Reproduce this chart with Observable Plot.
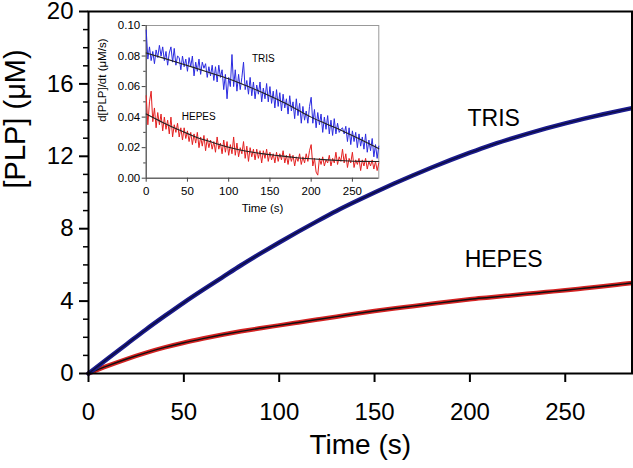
<!DOCTYPE html>
<html><head><meta charset="utf-8">
<script src="https://cdn.jsdelivr.net/npm/d3@7"></script>
<script src="https://cdn.jsdelivr.net/npm/@observablehq/plot@0.6"></script>
<style>
html,body{margin:0;padding:0;background:#fff;}
#chart{position:relative;width:633px;height:468px;overflow:hidden;}
#inset{position:absolute;left:90px;top:15px;}
svg{overflow:visible;}
</style></head><body><div id="chart"><div id="main"></div><div id="inset"></div></div>
<script>
// ---- Main panel data: [PLP] (µM) vs time (s)
const mainTime = [0,10,20,30,40,50,60,70,80,90,100,110,120,130,140,150,160,170,180,190,200,210,220,230,240,250,260,270,280,285];
const trisMain = [0,0.82,1.62,2.42,3.18,3.92,4.62,5.30,5.98,6.62,7.24,7.84,8.42,8.98,9.50,10.00,10.48,10.94,11.38,11.80,12.20,12.58,12.92,13.24,13.54,13.82,14.08,14.32,14.55,14.66];
const hepesMain = [0,0.42,0.80,1.14,1.44,1.70,1.93,2.14,2.33,2.50,2.66,2.82,2.98,3.14,3.30,3.45,3.59,3.72,3.85,3.98,4.10,4.20,4.30,4.40,4.50,4.60,4.71,4.82,4.94,5.00];

// ---- Inset data: d[PLP]/dt (µM/s) vs time (s)
const insetTime = [
0,2,4,6,8,10,12,14,16,18,
20,22,24,26,28,30,32,34,36,38,
40,42,44,46,48,50,52,54,56,58,
60,62,64,66,68,70,72,74,76,78,
80,82,84,86,88,90,92,94,96,98,
100,102,104,106,108,110,112,114,116,118,
120,122,124,126,128,130,132,134,136,138,
140,142,144,146,148,150,152,154,156,158,
160,162,164,166,168,170,172,174,176,178,
180,182,184,186,188,190,192,194,196,198,
200,202,204,206,208,210,212,214,216,218,
220,222,224,226,228,230,232,234,236,238,
240,242,244,246,248,250,252,254,256,258,
260,262,264,266,268,270,272,274,276,278,
280,282];
const trisRate = [
.097,.078,.086,.077,.083,.075,.084,.079,.087,.080,
.086,.077,.083,.074,.082,.086,.076,.085,.074,.080,
.079,.071,.080,.073,.078,.070,.079,.073,.080,.067,
.076,.070,.078,.068,.076,.072,.075,.066,.073,.067,
.074,.064,.073,.063,.074,.066,.071,.058,.068,.052,
.066,.060,.081,.060,.071,.057,.068,.058,.066,.076,
.058,.064,.055,.066,.054,.063,.052,.061,.055,.063,
.050,.059,.052,.062,.050,.060,.049,.057,.046,.058,
.047,.056,.044,.055,.046,.052,.042,.054,.044,.050,
.039,.052,.041,.049,.036,.047,.038,.044,.036,.047,
.053,.036,.045,.033,.043,.035,.042,.030,.040,.032,
.041,.029,.038,.028,.039,.029,.036,.030,.032,.033,
.029,.034,.024,.033,.022,.031,.024,.030,.020,.029,
.021,.027,.019,.029,.017,.025,.018,.026,.014,.022,
.013,.021];
const hepesRate = [
.054,.035,.050,.057,.037,.046,.033,.043,.035,.042,
.031,.040,.032,.038,.029,.040,.027,.035,.030,.036,
.027,.033,.025,.033,.026,.031,.024,.030,.022,.029,
.023,.030,.020,.027,.021,.028,.018,.026,.020,.025,
.019,.024,.017,.027,.019,.023,.016,.025,.017,.024,
.015,.022,.016,.027,.015,.023,.014,.020,.016,.024,
.013,.021,.011,.020,.014,.019,.012,.019,.013,.018,
.010,.018,.013,.019,.011,.017,.012,.016,.010,.017,
.011,.016,.012,.018,.010,.015,.009,.016,.011,.015,
.008,.014,.011,.016,.009,.014,.010,.016,.011,.018,
.022,.008,.013,.004,.002,.013,.009,.014,.008,.012,
.010,.015,.008,.013,.010,.017,.009,.014,.011,.019,
.010,.016,.007,.013,.010,.017,.007,.012,.009,.013,
.005,.012,.008,.013,.006,.011,.008,.012,.006,.011,
.005,.010];
const fitTime = [0,20,40,60,80,100,120,140,160,180,200,220,240,260,280,282];
const trisFit = [.082,.0788,.0755,.0721,.0686,.0651,.0608,.0563,.0513,.0458,.040,.0352,.0304,.0253,.0199,.0193];
const hepesFit = [.042,.0365,.0315,.027,.0235,.0203,.0178,.0161,.0148,.0136,.0127,.012,.0114,.011,.0109,.0109];

// ---- Ticks and labels
const mainXTicks = [0,50,100,150,200,250];
const mainYTicks = [0,4,8,12,16,20];
const mainYMinor = [1,2,3,5,6,7,9,10,11,13,14,15,17,18,19];
const insetXTicks = [0,50,100,150,200,250];
const insetYTicks = [0,0.02,0.04,0.06,0.08,0.10];
const insetYMinor = [0.01,0.03,0.05,0.07,0.09];
const seriesNames = ["TRIS","HEPES"];
const mainLabelAt = [{t:212.5, v:14.1}, {t:217.7, v:6.28}];
const insetLabelAt = [{t:142, v:0.0782}, {t:63.7, v:0.040}];

const FONT = '"Liberation Sans", Arial, Helvetica, sans-serif';
const trisColor = "#1c1c8e", hepesColor = "#d42222";
const insetBlue = "#2b2be0", insetRed = "#e42020";

const mainRows = mainTime.map((t,i)=>({t, tris: trisMain[i], hepes: hepesMain[i]}));
const insetRows = insetTime.map((t,i)=>({t, tris: trisRate[i], hepes: hepesRate[i]}));
const fitRows = fitTime.map((t,i)=>({t, tris: trisFit[i], hepes: hepesFit[i]}));
const mainLabels = seriesNames.map((s,i)=>({s, ...mainLabelAt[i]}));
const insetLabels = seriesNames.map((s,i)=>({s, ...insetLabelAt[i]}));

const main = Plot.plot({
  width: 633, height: 468,
  marginLeft: 88, marginRight: 1.5, marginTop: 11, marginBottom: 95,
  style: {fontFamily: FONT, background: "white", color: "black", overflow: "visible"},
  x: {domain: [0, 285]},
  y: {domain: [0, 20]},
  marks: [
    Plot.line(mainRows, {x: "t", y: "hepes", stroke: hepesColor, strokeWidth: 4.5, curve: "monotone-x"}),
    Plot.line(mainRows, {x: "t", y: "hepes", stroke: "#111", strokeWidth: 1.4, curve: "monotone-x"}),
    Plot.line(mainRows, {x: "t", y: "tris", stroke: trisColor, strokeWidth: 4.5, curve: "monotone-x"}),
    Plot.line(mainRows, {x: "t", y: "tris", stroke: "#0c0c40", strokeWidth: 1.4, curve: "monotone-x"}),
    Plot.axisY(mainYTicks, {tickSize: 9, tickPadding: 6, fontSize: 24, strokeWidth: 2, label: null}),
    Plot.axisY(mainYMinor, {tickSize: 5, strokeWidth: 1.5, tickFormat: () => "", label: null}),
    Plot.axisX(mainXTicks, {tickSize: 9, tickPadding: 20, fontSize: 24, strokeWidth: 2, label: null}),
    Plot.frame({stroke: "black", strokeWidth: 2}),
    Plot.text(mainLabels, {x: "t", y: "v", text: "s", fontSize: 23}),
    Plot.text(["Time (s)"], {text: d => d, frameAnchor: "bottom", dy: 80, fontSize: 28}),
    Plot.text(["[PLP] (μM)"], {text: d => d, frameAnchor: "left", rotate: -90, dx: -73, dy: -4, fontSize: 29})
  ]
});
document.getElementById("main").append(main);

const inset = Plot.plot({
  width: 295, height: 205,
  marginLeft: 55.7, marginRight: 6.7, marginTop: 10, marginBottom: 42.3,
  style: {fontFamily: FONT, background: "transparent", color: "black"},
  x: {domain: [0, 282]},
  y: {domain: [0, 0.1]},
  marks: [
    Plot.frame({fill: "white", stroke: "#999"}),
    Plot.ruleX([0], {stroke: "#444"}),
    Plot.ruleY([0], {stroke: "#444"}),
    Plot.line(insetRows, {x: "t", y: "hepes", stroke: insetRed, strokeWidth: 1}),
    Plot.line(insetRows, {x: "t", y: "tris", stroke: insetBlue, strokeWidth: 1}),
    Plot.line(fitRows, {x: "t", y: "hepes", stroke: "#222", strokeWidth: 1.1, curve: "monotone-x"}),
    Plot.line(fitRows, {x: "t", y: "tris", stroke: "#222", strokeWidth: 1.1, curve: "monotone-x"}),
    Plot.axisY(insetYTicks, {tickSize: 4, tickPadding: 2, fontSize: 11.5, tickFormat: d3.format(".2f"), stroke: "#444", label: null}),
    Plot.axisY(insetYMinor, {tickSize: 2.5, tickFormat: () => "", stroke: "#444", label: null}),
    Plot.axisX(insetXTicks, {tickSize: 4, tickPadding: 5, fontSize: 11.5, stroke: "#444", label: null}),
    Plot.text(insetLabels, {x: "t", y: "v", text: "s", fontSize: 10}),
    Plot.text(["Time (s)"], {text: d => d, frameAnchor: "bottom", dy: 34, fontSize: 11.5}),
    Plot.text(["d[PLP]/dt (μM/s)"], {text: d => d, frameAnchor: "left", rotate: -90, dx: -44, dy: 20, fontSize: 11.5})
  ]
});
document.getElementById("inset").append(inset);
</script></body></html>
